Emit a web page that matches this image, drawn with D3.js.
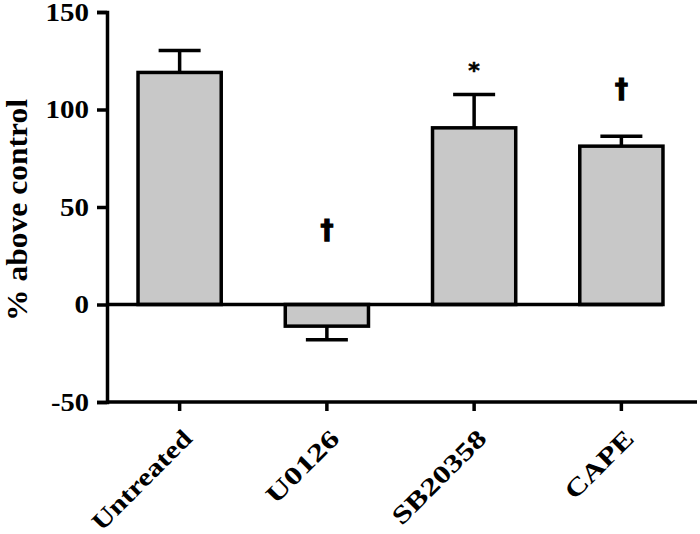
<!DOCTYPE html>
<html><head><meta charset="utf-8">
<script src="https://cdn.jsdelivr.net/npm/d3@7/dist/d3.min.js"></script>
<style>body{margin:0;background:#fff}svg{display:block}</style>
</head><body>
<svg id="c" width="700" height="534"></svg>
<script>
const categories = ["Untreated", "U0126", "SB20358", "CAPE"];
const values = [119, -11.1, 90.6, 81.2];
const errors = [11.3, 7, 17.1, 5.1];
const marks = ["", "\u2020", "*", "\u2020"];
const markValues = [null, 33.5, 116, 106];
const yTicks = [-50, 0, 50, 100, 150];
const yTickLabels = ["-50", "0", "50", "100", "150"];
const yTitle = "% above control";

const SERIF = '"Liberation Serif","Times New Roman",Times,serif';
const SANS = '"DejaVu Sans","Liberation Sans",Arial,sans-serif';

const svg = d3.select("#c");
const x = d3.scaleBand().domain(categories).range([106, 695]).paddingInner(0.435).paddingOuter(0.2175);
const y = d3.scaleLinear().domain([-50, 150]).range([402, 12]);

// bars
svg.selectAll("rect.bar").data(categories).enter().append("rect")
  .attr("x", d => x(d))
  .attr("width", x.bandwidth())
  .attr("y", (d, i) => Math.min(y(values[i]), y(0)))
  .attr("height", (d, i) => Math.abs(y(values[i]) - y(0)))
  .attr("fill", "#c8c8c8").attr("stroke", "#000").attr("stroke-width", 3.5);

// error bars (one-sided)
const capW = 42;
categories.forEach((c, i) => {
  const cx = x(c) + x.bandwidth() / 2;
  const v = values[i], e = v >= 0 ? v + errors[i] : v - errors[i];
  svg.append("line").attr("x1", cx).attr("x2", cx).attr("y1", y(v)).attr("y2", y(e))
    .attr("stroke", "#000").attr("stroke-width", 3.5);
  svg.append("line").attr("x1", cx - capW / 2).attr("x2", cx + capW / 2).attr("y1", y(e)).attr("y2", y(e))
    .attr("stroke", "#000").attr("stroke-width", 3.5);
  if (marks[i]) {
    svg.append("text").attr("x", cx).attr("y", y(markValues[i]))
      .attr("text-anchor", "middle")
      .style("font-family", SANS).style("font-weight", "bold")
      .style("font-size", (marks[i] === "*" ? 22 : 26) + "px")
      .attr("stroke", "#000").attr("stroke-width", marks[i] === "*" ? 0.6 : 1.2)
      .text(marks[i]);
  }
});

// zero line
svg.append("line").attr("x1", 107).attr("x2", x(categories[categories.length-1]) + x.bandwidth())
  .attr("y1", y(0)).attr("y2", y(0)).attr("stroke", "#000").attr("stroke-width", 3.5);

// y axis
const yAxis = svg.append("g").attr("transform", "translate(107,0)")
  .call(d3.axisLeft(y).tickValues(yTicks).tickFormat((d, i) => yTickLabels[i]).tickSize(10).tickPadding(8));
yAxis.select(".domain").attr("stroke-width", 3.5);
yAxis.selectAll(".tick line").attr("stroke-width", 3.5);
yAxis.selectAll(".tick text")
  .style("font-family", SERIF).style("font-weight", "bold").style("font-size", "25px")
  .attr("fill", "#000")
  .attr("textLength", (d, i) => yTickLabels[i].replace("-", "").length * 14.5 + (d < 0 ? 9 : 0))
  .attr("lengthAdjust", "spacingAndGlyphs");

// x axis
const xAxis = svg.append("g").attr("transform", "translate(0,402)")
  .call(d3.axisBottom(x).tickSize(9).tickFormat(""));
xAxis.select(".domain").attr("d", "M107,0H697").attr("stroke-width", 3.5);
xAxis.selectAll(".tick line").attr("stroke-width", 3.5);
const xLen = {"Untreated": 130, "U0126": 92, "SB20358": 122, "CAPE": 86};
xAxis.selectAll(".tick").append("text")
  .attr("transform", "translate(14,38) rotate(-45)")
  .attr("text-anchor", "end").attr("fill", "#000")
  .style("font-family", SERIF).style("font-weight", "bold").style("font-size", "25px")
  .attr("textLength", d => xLen[d]).attr("lengthAdjust", "spacingAndGlyphs")
  .text(d => d);

// y title
svg.append("text").attr("transform", "translate(27,210) rotate(-90)")
  .attr("text-anchor", "middle")
  .style("font-family", SERIF).style("font-weight", "bold").style("font-size", "29px")
  .attr("textLength", 222).attr("lengthAdjust", "spacingAndGlyphs")
  .attr("fill", "#000").text(yTitle);
</script>
</body></html>
